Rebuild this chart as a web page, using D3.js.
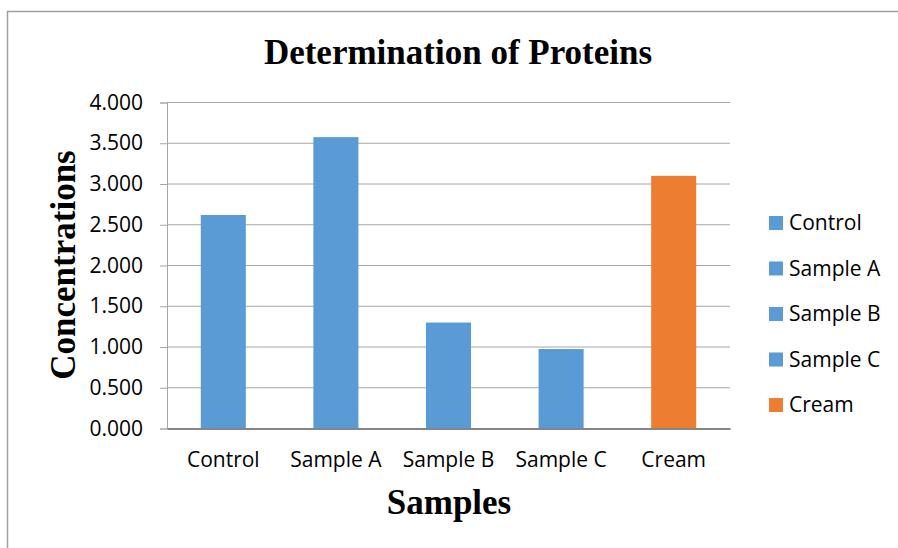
<!DOCTYPE html>
<html>
<head>
<meta charset="utf-8">
<script src="https://cdn.jsdelivr.net/npm/d3@7"></script>
<style>
  body { margin: 0; background: #fff; }
</style>
</head>
<body>
<div id="chart"></div>
<script>
const categories = ['Control', 'Sample A', 'Sample B', 'Sample C', 'Cream']
const values = [2.62, 3.575, 1.30, 0.975, 3.10]
const yTicks = [0, 0.5, 1, 1.5, 2, 2.5, 3, 3.5, 4]
const barColors = ['#5b9bd5', '#5b9bd5', '#5b9bd5', '#5b9bd5', '#ed7d31']

const plot = { left: 167, top: 102.5, right: 730, bottom: 428.5 }

const svg = d3
  .select('#chart')
  .append('svg')
  .attr('width', 898)
  .attr('height', 548)

// chart frame
svg
  .append('rect')
  .attr('x', 7.5)
  .attr('y', 11.5)
  .attr('width', 1000)
  .attr('height', 1000)
  .attr('fill', 'none')
  .attr('stroke', '#a0a0a0')
  .attr('stroke-width', 1.5)

const xPositionScale = d3
  .scaleBand()
  .domain(categories)
  .range([plot.left, plot.right])
  .paddingInner(0.6)
  .paddingOuter(0.3)

const yPositionScale = d3
  .scaleLinear()
  .domain([0, 4])
  .range([plot.bottom, plot.top])

// gridlines
svg
  .append('g')
  .selectAll('line')
  .data(yTicks.filter(d => d > 0))
  .enter()
  .append('line')
  .attr('x1', plot.left)
  .attr('x2', plot.right)
  .attr('y1', d => yPositionScale(d))
  .attr('y2', d => yPositionScale(d))
  .attr('stroke', '#a6a6a6')
  .attr('stroke-width', 1)

// y axis
const yAxis = d3
  .axisLeft(yPositionScale)
  .tickValues(yTicks)
  .tickFormat(d3.format('.3f'))
  .tickSize(7)
  .tickPadding(17)

svg
  .append('g')
  .attr('class', 'axis y-axis')
  .attr('transform', 'translate(' + plot.left + ',0)')
  .call(yAxis)
  .call(g => g.select('.domain').attr('stroke', '#a6a6a6'))
  .call(g => g.selectAll('.tick line').attr('stroke', '#a6a6a6'))
  .call(g =>
    g
      .selectAll('.tick text')
      .attr('font-family', 'Open Sans, sans-serif')
      .attr('font-size', 21)
      .attr('fill', '#000')
  )

// bars
svg
  .selectAll('.bar')
  .data(categories)
  .enter()
  .append('rect')
  .attr('class', 'bar')
  .attr('x', d => xPositionScale(d))
  .attr('width', xPositionScale.bandwidth())
  .attr('y', (d, i) => yPositionScale(values[i]))
  .attr('height', (d, i) => yPositionScale(0) - yPositionScale(values[i]))
  .attr('fill', (d, i) => barColors[i])

// x axis
const xAxis = d3.axisBottom(xPositionScale).tickSize(0).tickPadding(24)

svg
  .append('g')
  .attr('class', 'axis x-axis')
  .attr('transform', 'translate(0,' + plot.bottom + ')')
  .call(xAxis)
  .call(g => g.select('.domain').attr('stroke', '#868686').attr('stroke-width', 2))
  .call(g =>
    g
      .selectAll('.tick text')
      .attr('font-family', 'Open Sans, sans-serif')
      .attr('font-size', 21)
      .attr('fill', '#000')
  )

// titles
svg
  .append('text')
  .attr('x', 458)
  .attr('y', 64)
  .attr('text-anchor', 'middle')
  .attr('font-family', 'Liberation Serif, serif')
  .attr('font-weight', 'bold')
  .attr('font-size', 35)
  .text('Determination of Proteins')

svg
  .append('text')
  .attr('x', 449)
  .attr('y', 514)
  .attr('text-anchor', 'middle')
  .attr('font-family', 'Liberation Serif, serif')
  .attr('font-weight', 'bold')
  .attr('font-size', 35)
  .text('Samples')

svg
  .append('text')
  .attr('transform', 'translate(75,' + 265 + ') rotate(-90)')
  .attr('text-anchor', 'middle')
  .attr('font-family', 'Liberation Serif, serif')
  .attr('font-weight', 'bold')
  .attr('font-size', 35)
  .text('Concentrations')

// legend
const legend = svg
  .append('g')
  .selectAll('g')
  .data(categories)
  .enter()
  .append('g')
  .attr('transform', (d, i) => 'translate(769,' + (223 + i * 45.5) + ')')

legend
  .append('rect')
  .attr('x', 0)
  .attr('y', -7)
  .attr('width', 14)
  .attr('height', 14)
  .attr('fill', (d, i) => barColors[i])

legend
  .append('text')
  .attr('x', 20)
  .attr('y', 0)
  .attr('dy', '0.35em')
  .attr('font-family', 'Open Sans, sans-serif')
  .attr('font-size', 21)
  .text(d => d)
</script>
</body>
</html>
